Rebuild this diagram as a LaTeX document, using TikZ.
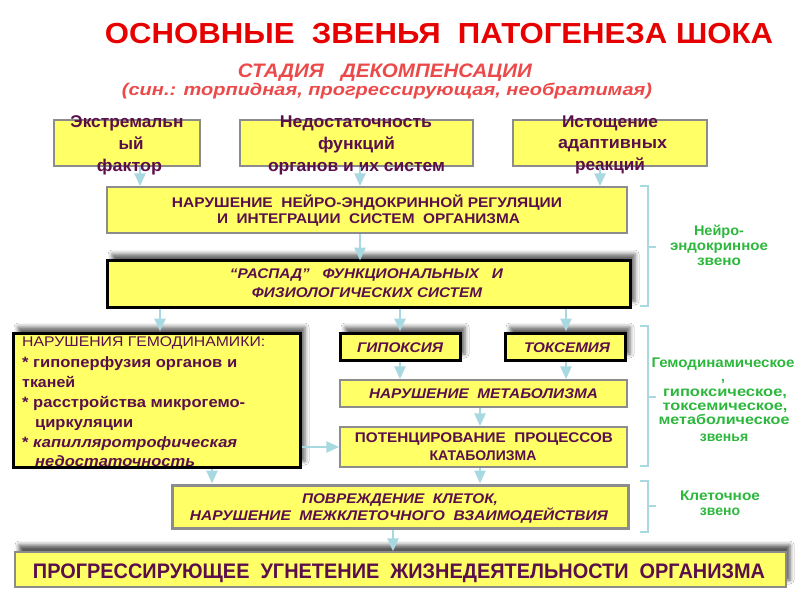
\documentclass[tikz,border=0pt]{standalone}
\usepackage{fontspec}
\setmainfont{Liberation Sans}
\usetikzlibrary{arrows.meta,shadows.blur}
\definecolor{yfill}{HTML}{FFFF66}
\definecolor{ptext}{HTML}{5B0F4A}
\definecolor{tred}{HTML}{E60000}
\definecolor{sred}{HTML}{EC4A4A}
\definecolor{abl}{HTML}{A8D8E0}
\definecolor{grn}{HTML}{2DB83D}
\definecolor{bgray}{HTML}{8C8C8C}
\newcommand\fw[2]{\resizebox{#1pt}{\height}{#2}}
\begin{document}
\begin{tikzpicture}[x=1pt,y=-1pt,
  boxthin/.style={draw=bgray, line width=1.5pt, fill=yfill, inner sep=0pt},
  boxthick/.style={draw=black, line width=3pt, fill=yfill, inner sep=0pt,
    blur shadow={shadow xshift=5pt, shadow yshift=6pt, shadow blur radius=4pt, shadow opacity=60}},
  tx/.style={anchor=base, inner sep=0pt, text=ptext, font=\fontsize{14}{16}\selectfont\bfseries},
  txi/.style={tx, font=\fontsize{14}{16}\selectfont\bfseries\itshape},
  txt/.style={tx, font=\fontsize{17}{19}\selectfont\bfseries},
  txh/.style={anchor=base west, inner sep=0pt, text=ptext, font=\fontsize{15}{17}\selectfont\bfseries},
  gt/.style={anchor=base, inner sep=0pt, text=grn, font=\fontsize{14}{16}\selectfont\bfseries},
  arr/.style={draw=abl, line width=2.5pt, -{Triangle[width=11pt,length=13pt]}},
  brk/.style={draw=abl, line width=2pt},
]
\useasboundingbox[fill=white] (0,0) rectangle (800,600);

% titles
\node[anchor=base, inner sep=0pt, text=tred, font=\fontsize{29}{31}\selectfont\bfseries] (title) at (439,43)
  {\fw{668}{ОСНОВНЫЕ~~ЗВЕНЬЯ~~ПАТОГЕНЕЗА ШОКА}};
\node[anchor=base, inner sep=0pt, text=sred, font=\fontsize{19.5}{21}\selectfont\bfseries\itshape] (sub1) at (385,77)
  {\fw{294}{СТАДИЯ~~~ДЕКОМПЕНСАЦИИ}};
\node[anchor=base, inner sep=0pt, text=sred, font=\fontsize{17}{19}\selectfont\bfseries\itshape] (sub2) at (387,95)
  {\fw{530}{(син.: торпидная, прогрессирующая, необратимая)}};

% columns for arrows
\coordinate (c140) at (140,0);
\coordinate (c160) at (160,0);
\coordinate (c212) at (212,0);
\coordinate (c360) at (360,0);
\coordinate (c393) at (393,0);
\coordinate (c400) at (400,0);
\coordinate (c480) at (480,0);
\coordinate (c566) at (566,0);
\coordinate (c600) at (600,0);
\coordinate (r447) at (0,447);

% boxes
\node[boxthin, minimum width=146pt, minimum height=46pt] (b1) at (127,143) {};
\node[boxthin, minimum width=233pt, minimum height=46pt] (b2) at (356.5,143) {};
\node[boxthin, minimum width=194pt, minimum height=46pt] (b3) at (610,143) {};
\node[boxthin, minimum width=520pt, minimum height=46pt] (nar) at (367,210) {};
\node[boxthick, minimum width=523pt, minimum height=47pt] (ras) at (368.5,283.5) {};
\node[boxthick, minimum width=287pt, minimum height=134pt] (hemo) at (156.5,400) {};
\node[boxthick, minimum width=120pt, minimum height=27pt] (gip) at (400,346.5) {};
\node[boxthick, minimum width=120pt, minimum height=27pt] (tox) at (565,346.5) {};
\node[boxthin, minimum width=287pt, minimum height=27pt] (met) at (483.5,393.5) {};
\node[boxthin, minimum width=287pt, minimum height=40pt] (pot) at (483.5,447) {};
\node[boxthin, line width=3pt, minimum width=456pt, minimum height=43pt] (pov) at (400,506.5) {};
\node[boxthin, minimum width=771pt, minimum height=35pt,
  blur shadow={shadow xshift=4pt, shadow yshift=7pt, shadow blur radius=4pt, shadow opacity=65}] (prog) at (400.5,569.5) {};

% texts of top boxes
\node[txt] (t1a) at (127,127) {\fw{113}{Экстремальн}};
\node[txt] (t1b) at (131,149) {ый};
\node[txt] (t1c) at (129.5,171) {\fw{65}{фактор}};
\node[txt] (t2a) at (356,127) {\fw{152}{Недостаточность}};
\node[txt] (t2b) at (356.5,149) {\fw{77}{функций}};
\node[txt] (t2c) at (356.5,171) {\fw{177}{органов и их систем}};
\node[txt] (t3a) at (610,127) {\fw{96}{Истощение}};
\node[txt] (t3b) at (612.5,148) {\fw{109}{адаптивных}};
\node[txt] (t3c) at (610,170) {\fw{70}{реакций}};

% text of other boxes
\node[tx] (tna) at (367,207) {\fw{390}{НАРУШЕНИЕ~~НЕЙРО-ЭНДОКРИННОЙ РЕГУЛЯЦИИ}};
\node[tx] (tnb) at (368.5,223) {\fw{303}{И~~ИНТЕГРАЦИИ~~СИСТЕМ~~ОРГАНИЗМА}};
\node[txi] (tra) at (366.5,278) {\fw{273}{“РАСПАД”~~~ФУНКЦИОНАЛЬНЫХ~~~И}};
\node[txi] (trb) at (367,297) {\fw{230}{ФИЗИОЛОГИЧЕСКИХ СИСТЕМ}};

\node[txh, font=\fontsize{14}{16}\selectfont] (th1) at (22,346) {\fw{243}{НАРУШЕНИЯ ГЕМОДИНАМИКИ:}};
\node[txh] (th2) at (22,367) {\fw{215}{* гипоперфузия органов и}};
\node[txh] (th3) at (22,387) {\fw{53}{тканей}};
\node[txh] (th4) at (22,407) {\fw{223}{* расстройства микрогемо-}};
\node[txh] (th5) at (35,427) {\fw{98}{циркуляции}};
\node[txh] (th6) at (22,447) {\fw{215}{* \itshape капилляротрофическая}};
\node[txh, font=\fontsize{15}{17}\selectfont\bfseries\itshape] (th7) at (35,466) {\fw{160}{недостаточность}};

\node[txi] (tg) at (400,352) {\fw{86}{ГИПОКСИЯ}};
\node[txi] (tt) at (567,352) {\fw{86}{ТОКСЕМИЯ}};
\node[txi] (tm) at (483.5,398) {\fw{229}{НАРУШЕНИЕ~~МЕТАБОЛИЗМА}};
\node[tx] (tpa) at (484,442) {\fw{258}{ПОТЕНЦИРОВАНИЕ~~ПРОЦЕССОВ}};
\node[tx] (tpb) at (483,460) {КАТАБОЛИЗМА};
\node[txi] (tva) at (400,503) {\fw{196}{ПОВРЕЖДЕНИЕ~~КЛЕТОК,}};
\node[txi] (tvb) at (399,520) {\fw{418}{НАРУШЕНИЕ~~МЕЖКЛЕТОЧНОГО~~ВЗАИМОДЕЙСТВИЯ}};
\node[tx, font=\fontsize{21}{23}\selectfont\bfseries] (tprog) at (399,578)
  {\fw{732}{ПРОГРЕССИРУЮЩЕЕ~~УГНЕТЕНИЕ~~ЖИЗНЕДЕЯТЕЛЬНОСТИ~~ОРГАНИЗМА}};

% arrows
\draw[arr] (b1.south -| c140) -- (nar.north -| c140);
\draw[arr] (b2.south -| c360) -- (nar.north -| c360);
\draw[arr] (b3.south -| c600) -- (nar.north -| c600);
\draw[arr] (nar.south -| c360) -- ([yshift=-2pt]ras.north -| c360);
\draw[arr] (ras.south -| c160) -- (hemo.north -| c160);
\draw[arr] (ras.south -| c400) -- (gip.north -| c400);
\draw[arr] (ras.south -| c566) -- (tox.north -| c566);
\draw[arr] (gip.south -| c400) -- (met.north -| c400);
\draw[arr] (tox.south -| c566) -- (met.north -| c566);
\draw[arr] (met.south -| c480) -- (pot.north -| c480);
\draw[arr] (hemo.east |- r447) -- (pot.west |- r447);
\draw[arr] (hemo.south -| c212) -- (pov.north -| c212);
\draw[arr] (pot.south -| c480) -- (pov.north -| c480);
\draw[arr] (pov.south -| c393) -- (prog.north -| c393);

% brackets
\draw[brk] (640,186) -- (648,186) -- (648,306) -- (640,306);
\draw[brk] (648,247) -- (656,247);
\draw[brk] (640,326) -- (648,326) -- (648,466) -- (640,466);
\draw[brk] (648,397) -- (656,397);
\draw[brk] (640,481) -- (648,481) -- (648,532) -- (640,532);
\draw[brk] (648,506) -- (656,506);

% green labels
\node[gt] (g1a) at (719,235) {\fw{50}{Нейро-}};
\node[gt] (g1b) at (719,250) {\fw{98}{эндокринное}};
\node[gt] (g1c) at (719,265) {\fw{44}{звено}};
\node[gt] (g2a) at (723,367) {\fw{143}{Гемодинамическое}};
\node[gt] (g2b) at (723,381) {,};
\node[gt] (g2c) at (725,396) {\fw{124}{гипоксическое,}};
\node[gt] (g2d) at (725,410) {\fw{125}{токсемическое,}};
\node[gt] (g2e) at (724,424) {\fw{131}{метаболическое}};
\node[gt] (g2f) at (724,441) {звенья};
\node[gt] (g3a) at (720,500) {\fw{80}{Клеточное}};
\node[gt] (g3b) at (720,515) {звено};
\end{tikzpicture}
\end{document}
